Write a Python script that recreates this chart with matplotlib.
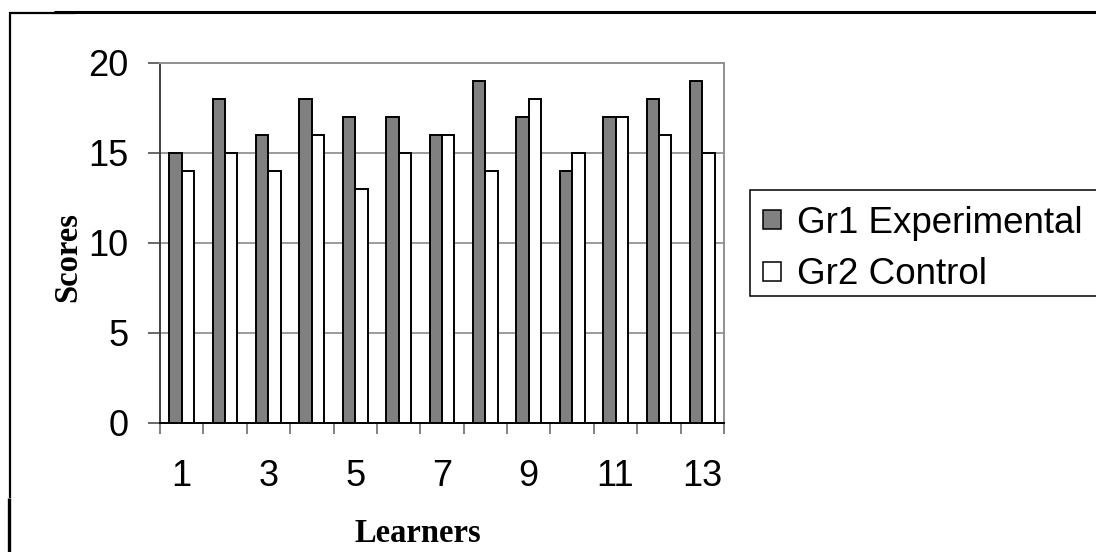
import matplotlib
matplotlib.use("Agg")
import matplotlib.pyplot as plt
from matplotlib.lines import Line2D
from matplotlib.patches import Rectangle
import numpy as np

learners = list(range(1, 14))
gr1_experimental = [15, 18, 16, 18, 17, 17, 16, 19, 17, 14, 17, 18, 19]
gr2_control = [14, 15, 14, 16, 13, 15, 16, 14, 18, 15, 17, 16, 15]
y_ticks = [0, 5, 10, 15, 20]
x_labels = ["1", "", "3", "", "5", "", "7", "", "9", "", "11", "", "13"]

W, H = 1096, 552
fig = plt.figure(figsize=(W / 100, H / 100), dpi=100)
fig.patch.set_facecolor("white")

sans = "Liberation Sans"
serif = "Liberation Serif"

# plot area in pixels: x 160..724, y 63..423
ax = fig.add_axes([160 / W, 1 - 423 / H, 564 / W, 360 / H])

x = np.arange(len(learners))
w = 1 / 3.5
ax.bar(x - w / 2, gr1_experimental, w, color="#808080", edgecolor="black",
       linewidth=1.4, label="Gr1 Experimental", zorder=3)
ax.bar(x + w / 2, gr2_control, w, color="white", edgecolor="black",
       linewidth=1.4, label="Gr2 Control", zorder=3)

ax.set_xlim(-0.5, len(learners) - 0.5)
ax.set_ylim(0, 20)
ax.set_yticks(y_ticks)
ax.set_yticklabels([str(v) for v in y_ticks], fontsize=26, family=sans)
ax.yaxis.grid(True, color="#808080", linewidth=1.1, zorder=0)
ax.set_axisbelow(True)

ax.set_xticks(x)
ax.set_xticklabels(x_labels, fontsize=26, family=sans)
ax.set_xticks(np.arange(len(learners) + 1) - 0.5, minor=True)
ax.tick_params(axis="x", which="major", length=0, pad=26)
ax.tick_params(axis="x", which="minor", length=8, width=1.1, color="#606060",
               direction="out")
ax.tick_params(axis="y", length=8.6, width=1.1, color="#404040", pad=14,
               direction="out")

ax.spines["left"].set_color("#404040")
ax.spines["bottom"].set_color("black")
ax.spines["top"].set_color("#909090")
ax.spines["right"].set_color("#909090")
for s in ax.spines.values():
    s.set_linewidth(1.4)

fig.text(418 / W, 1 - 542 / H, "Learners", fontsize=23.5, family=serif,
         fontweight="bold", ha="center", va="baseline")
fig.text(68 / W, 1 - 257 / H, "Scores", fontsize=23.5, family=serif,
         fontweight="bold", rotation=90, ha="center", va="center")

# legend box runs off the right edge of the figure
fig.add_artist(Rectangle((750 / W, 1 - 296 / H), 360 / W, 106 / H,
                         transform=fig.transFigure, facecolor="white",
                         edgecolor="black", linewidth=1.1, clip_on=False))
leg = fig.legend(loc="upper left", bbox_to_anchor=(750 / W, 1 - 193 / H),
                 borderaxespad=0, prop={"family": sans, "size": 26.5},
                 handlelength=0.48, handleheight=0.42, handletextpad=0.45,
                 borderpad=0.35, labelspacing=0.45, frameon=False)
for p in leg.get_patches():
    p.set_linewidth(1.1)

# outer frame pieces
def px_line(xs, ys, lw):
    fig.add_artist(Line2D([a / W for a in xs], [1 - b / H for b in ys],
                          transform=fig.transFigure, color="black",
                          linewidth=lw, solid_capstyle="butt"))

px_line([54, W], [11.5, 11.5], 2.2)
px_line([9, 75], [13, 13], 1.6)
px_line([10, 10], [12, 498], 1.6)
px_line([8.5, 8.5], [498, H], 2.4)

fig.savefig("out.png", dpi=100, facecolor="white")
